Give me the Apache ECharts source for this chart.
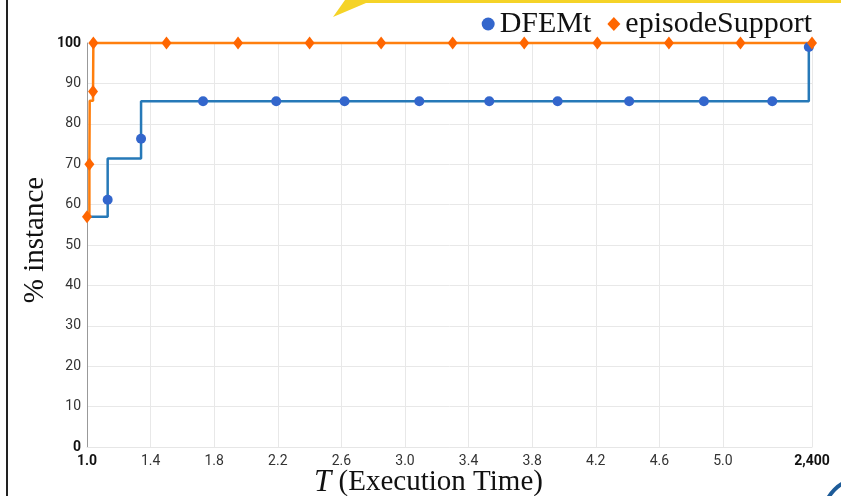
<!DOCTYPE html>
<html>
<head>
<meta charset="utf-8">
<script src="https://cdn.jsdelivr.net/npm/echarts@6/dist/echarts.min.js"></script>
<style>
html, body { margin: 0; padding: 0; background: #fff; }
#chart { width: 841px; height: 496px; }
</style>
</head>
<body>
<div id="chart"></div>
<script>
var seriesNames = ['DFEMt', 'episodeSupport'];

// x axis: even steps of 0.4, last tick is stretched and stands for 2,400
var xTickValues = [1.0, 1.4, 1.8, 2.2, 2.6, 3.0, 3.4, 3.8, 4.2, 4.6, 5.0, 5.56];
var xTickLabels = ['1.0', '1.4', '1.8', '2.2', '2.6', '3.0', '3.4', '3.8', '4.2', '4.6', '5.0', '2,400'];

// DFEMt (step line), mark = 0 means the point has no marker
var dfemtX = [1.0, 1.13, 1.13, 1.34, 1.34, 1.73, 2.19, 2.62, 3.09, 3.53, 3.96, 4.41, 4.88, 5.31, 5.54];
var dfemtY = [57, 61.2, 71.4, 76.3, 85.6, 85.6, 85.6, 85.6, 85.6, 85.6, 85.6, 85.6, 85.6, 85.6, 99];
var dfemtMark = [0, 1, 0, 1, 0, 1, 1, 1, 1, 1, 1, 1, 1, 1, 1];

// episodeSupport (step line)
var epiX = [1.0, 1.015, 1.017, 1.038, 1.04, 1.50, 1.95, 2.40, 2.85, 3.30, 3.75, 4.21, 4.66, 5.11, 5.56];
var epiY = [57, 70, 85.7, 88, 100, 100, 100, 100, 100, 100, 100, 100, 100, 100, 100];
var epiMark = [1, 1, 0, 1, 1, 1, 1, 1, 1, 1, 1, 1, 1, 1, 1];

function buildData(xs, ys, marks) {
    var out = [];
    for (var i = 0; i < xs.length; i++) {
        var item = { value: [xs[i], ys[i]] };
        if (!marks[i]) item.symbol = 'none';
        out.push(item);
    }
    return out;
}

var chart = echarts.init(document.getElementById('chart'));

var option = {
    animation: false,
    backgroundColor: '#fff',
    grid: { left: 87, right: 29, top: 43, bottom: 49, outerBoundsMode: 'none', containLabel: false },
    legend: {
        right: 24,
        top: 4,
        itemGap: 16,
        itemWidth: 13,
        itemHeight: 14,
        textStyle: { fontFamily: 'Liberation Serif', fontSize: 30, color: '#111' },
        data: [
            { name: seriesNames[0], icon: 'circle' },
            { name: seriesNames[1], icon: 'diamond' }
        ]
    },
    xAxis: {
        type: 'value',
        min: 1.0,
        max: 5.56,
        name: '{t|T}{n| (Execution Time)}',
        nameLocation: 'middle',
        nameGap: 20,
        nameMoveOverlap: false,
        nameTextStyle: {
            padding: [0, 42, 0, 0],
            rich: {
                t: { fontFamily: 'Liberation Serif', fontStyle: 'italic', fontSize: 31, color: '#111' },
                n: { fontFamily: 'Liberation Serif', fontSize: 29, color: '#111' }
            }
        },
        axisLine: { show: true, lineStyle: { color: '#e6e6e6', width: 1 } },
        axisTick: { show: false, customValues: xTickValues },
        splitLine: { show: true, lineStyle: { color: '#e8e8e8', width: 1 } },
        axisLabel: {
            customValues: xTickValues,
            margin: 7,
            fontFamily: 'Roboto',
            fontSize: 14,
            color: '#333',
            formatter: function (v) {
                var idx = -1;
                for (var i = 0; i < xTickValues.length; i++) {
                    if (Math.abs(xTickValues[i] - v) < 1e-6) idx = i;
                }
                if (idx < 0) return '';
                if (idx === 0 || idx === xTickValues.length - 1) return '{b|' + xTickLabels[idx] + '}';
                return xTickLabels[idx];
            },
            rich: {
                b: { fontFamily: 'Roboto', fontSize: 14, fontWeight: 'bold', color: '#111' }
            }
        }
    },
    yAxis: {
        type: 'value',
        min: 0,
        max: 100,
        interval: 10,
        name: '% instance',
        nameLocation: 'middle',
        nameRotate: 90,
        nameGap: 37,
        nameMoveOverlap: false,
        nameTextStyle: { fontFamily: 'Liberation Serif', fontSize: 29, color: '#111', padding: [0, 0, 0, 10] },
        axisLine: { show: true, lineStyle: { color: '#999', width: 1 } },
        axisTick: { show: false },
        splitLine: { show: true, lineStyle: { color: '#e8e8e8', width: 1 } },
        axisLabel: {
            margin: 6,
            fontFamily: 'Roboto',
            fontSize: 14,
            color: '#333',
            formatter: function (v) {
                if (v === 0 || v === 100) return '{b|' + v + '}';
                return v;
            },
            rich: {
                b: { fontFamily: 'Roboto', fontSize: 14, fontWeight: 'bold', color: '#111' }
            }
        }
    },
    series: [
        {
            name: seriesNames[0],
            type: 'line',
            step: 'end',
            clip: false,
            symbol: 'circle',
            symbolSize: 10,
            itemStyle: { color: '#3366cc' },
            lineStyle: { color: '#2679b8', width: 2.5 },
            data: buildData(dfemtX, dfemtY, dfemtMark)
        },
        {
            name: seriesNames[1],
            type: 'line',
            step: 'end',
            clip: false,
            symbol: 'diamond',
            symbolSize: [10, 13],
            itemStyle: { color: '#ff6600' },
            lineStyle: { color: '#ff7f0e', width: 2.5 },
            data: buildData(epiX, epiY, epiMark)
        }
    ],
    graphic: [
        // slide leftovers around the figure
        { type: 'rect', shape: { x: 6, y: 0, width: 2, height: 496 }, style: { fill: '#222' }, silent: true },
        { type: 'polygon', shape: { points: [[345, 0], [841, 0], [841, 3], [366, 3], [333, 17]] }, style: { fill: '#f5d327' }, silent: true },
        { type: 'circle', shape: { cx: 860, cy: 515, r: 36 }, style: { fill: 'none', stroke: '#1d5b98', lineWidth: 4 }, silent: true }
    ]
};

chart.setOption(option);
</script>
</body>
</html>
